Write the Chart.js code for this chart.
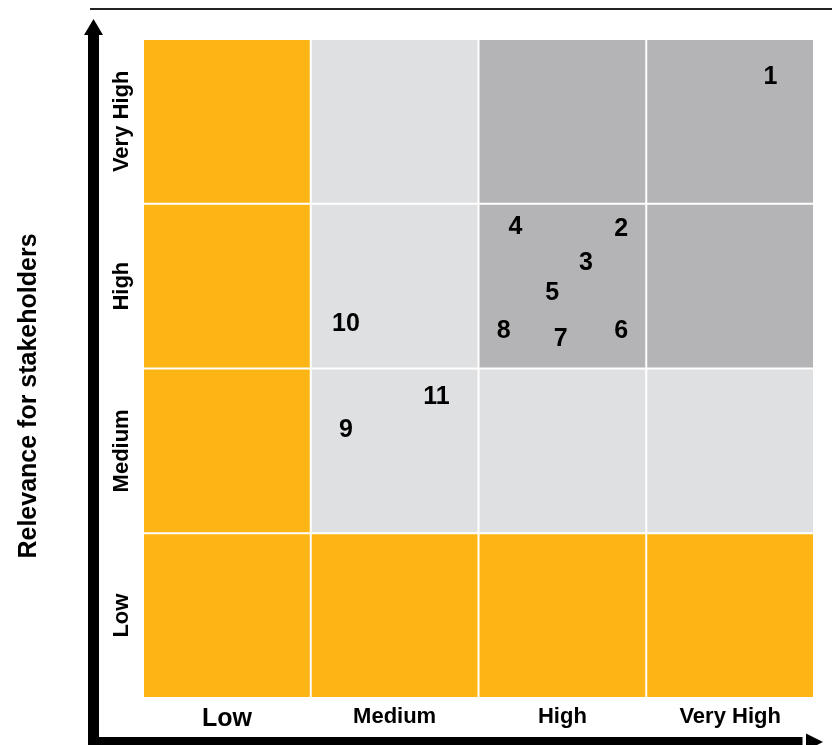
<!DOCTYPE html>
<html>
<head>
<meta charset="utf-8">
<script src="https://cdn.jsdelivr.net/npm/chart.js@4.4.1/dist/chart.umd.min.js"></script>
<style>
  html, body { margin: 0; padding: 0; background: #fff; }
  #wrap { width: 832px; height: 745px; position: relative; }
</style>
</head>
<body>
<div id="wrap"><canvas id="matrix"></canvas></div>
<script>
// levels used on both axes (low -> very high)
const levels = ['Low', 'Medium', 'High', 'Very High']
const yTitle = 'Relevance for stakeholders'

// topic numbers and their position in the matrix (0..4 on both axes)
const topicIds   = ['1', '2', '3', '4', '5', '6', '7', '8', '9', '10', '11']
const impactX    = [3.74, 2.85, 2.64, 2.22, 2.44, 2.85, 2.49, 2.15, 1.21, 1.21, 1.75]
const relevanceY = [3.78, 2.86, 2.65, 2.87, 2.47, 2.24, 2.19, 2.24, 1.64, 2.28, 1.84]

// materiality class of each cell, rows from Low (bottom) to Very High (top)
// 0 = not material, 1 = material, 2 = very material
const cellClass = [
  [0, 0, 0, 0],
  [0, 1, 1, 1],
  [0, 1, 2, 2],
  [0, 1, 2, 2]
]
const classColors = ['#fdb515', '#dfe0e2', '#b4b4b6']

const fontFam = '"Liberation Sans", Arial, sans-serif'

const cellsPlugin = {
  id: 'cells',
  beforeDatasetsDraw(chart) {
    const {ctx, scales: {x, y}} = chart
    ctx.save()
    cellClass.forEach((row, r) => {
      row.forEach((cls, c) => {
        const x0 = x.getPixelForValue(c), x1 = x.getPixelForValue(c + 1)
        const y0 = y.getPixelForValue(r + 1), y1 = y.getPixelForValue(r)
        ctx.fillStyle = classColors[cls]
        ctx.fillRect(x0 + 1, y0 + 1, x1 - x0 - 2, y1 - y0 - 2)
      })
    })
    ctx.restore()
  }
}

const labelsPlugin = {
  id: 'topicLabels',
  afterDatasetsDraw(chart) {
    const ctx = chart.ctx
    const meta = chart.getDatasetMeta(0)
    ctx.save()
    ctx.font = 'bold 25px ' + fontFam
    ctx.fillStyle = '#000'
    ctx.textAlign = 'center'
    ctx.textBaseline = 'alphabetic'
    meta.data.forEach((pt, i) => {
      ctx.fillText(topicIds[i], pt.x, pt.y + 9)
    })
    ctx.restore()
  }
}

const axesPlugin = {
  id: 'arrowAxes',
  afterDraw(chart) {
    const {ctx, chartArea: a, width, height} = chart
    ctx.save()
    ctx.fillStyle = '#000'
    // top rule
    ctx.fillStyle = '#222'
    ctx.fillRect(a.left - 53, 8, width - a.left + 53, 2)
    ctx.fillStyle = '#000'
    // vertical arrow
    const vx = a.left - 49.5
    ctx.fillRect(vx - 5.5, 34, 11, height - 34)
    ctx.beginPath()
    ctx.moveTo(vx, 19)
    ctx.lineTo(vx - 9.5, 35)
    ctx.lineTo(vx + 9.5, 35)
    ctx.closePath()
    ctx.fill()
    // horizontal arrow
    const hy = a.bottom + 44
    ctx.fillRect(vx - 5.5, hy - 5, a.right - vx - 6, 10)
    ctx.beginPath()
    ctx.moveTo(a.right + 9, hy)
    ctx.lineTo(a.right - 8, hy - 8.5)
    ctx.lineTo(a.right - 8, hy + 8.5)
    ctx.closePath()
    ctx.fill()
    // y axis title
    ctx.translate(29, 396)
    ctx.rotate(-Math.PI / 2)
    ctx.font = 'bold 25px ' + fontFam
    ctx.textAlign = 'center'
    ctx.textBaseline = 'middle'
    ctx.fillText(yTitle, 0, 0)
    ctx.restore()
  }
}

const centerTicks = scale => {
  scale.ticks = levels.map((_, i) => ({value: i + 0.5}))
}

new Chart(document.getElementById('matrix'), {
  type: 'scatter',
  data: {
    datasets: [{
      data: topicIds.map((id, i) => ({x: impactX[i], y: relevanceY[i]})),
      pointRadius: 0,
      pointHoverRadius: 0
    }]
  },
  options: {
    responsive: true,
    maintainAspectRatio: false,
    animation: false,
    layout: { padding: { top: 39, right: 18, left: 0, bottom: 0 } },
    plugins: { legend: { display: false }, tooltip: { enabled: false } },
    scales: {
      x: {
        type: 'linear', min: 0, max: 4,
        grid: { display: false, drawTicks: false },
        border: { display: false },
        afterBuildTicks: centerTicks,
        afterFit: s => { s.height = 47 },
        ticks: {
          autoSkip: false, maxRotation: 0, padding: 6, color: '#000',
          callback: (v, i) => levels[i],
          font: c => ({ family: fontFam, weight: 'bold', size: c.index === 0 ? 25 : 22 })
        }
      },
      y: {
        type: 'linear', min: 0, max: 4,
        grid: { display: false, drawTicks: false },
        border: { display: false },
        afterBuildTicks: centerTicks,
        afterFit: s => { s.width = 143 },
        ticks: {
          autoSkip: false, minRotation: 90, maxRotation: 90,
          crossAlign: 'center', padding: -30, color: '#000',
          callback: (v, i) => levels[i],
          font: { family: fontFam, weight: 'bold', size: 22 }
        }
      }
    }
  },
  plugins: [cellsPlugin, labelsPlugin, axesPlugin]
})
</script>
</body>
</html>
